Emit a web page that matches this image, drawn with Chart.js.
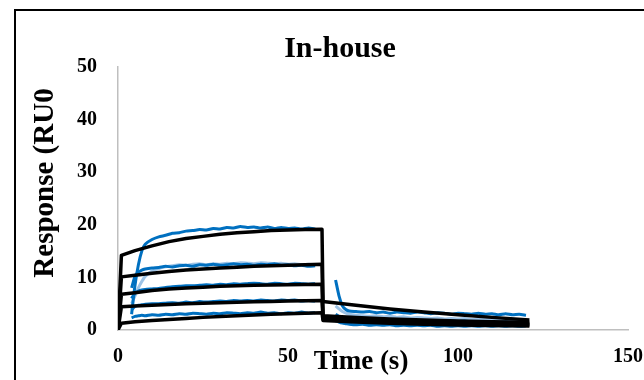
<!DOCTYPE html>
<html lang="en">
<head>
<meta charset="UTF-8">
<title>In-house</title>
<script src="https://cdn.jsdelivr.net/npm/chart.js"></script>
<style>
  body { margin: 0; background: #fff; overflow: hidden; }
  .frame { position: absolute; left: 14px; top: 9px; width: 700px; height: 420px; border: 2px solid #000; }
  #grafico { position: absolute; left: 0; top: 0; }
</style>
</head>
<body>
<div class="frame"></div>
<canvas id="grafico" width="644" height="380"></canvas>

<script>
// measured data (blue), association and dissociation phases
var tA = [4, 5, 6, 7, 8, 10, 12, 14, 16, 18, 20, 22, 24, 26, 28, 30, 32, 34, 36, 38, 40, 42, 44, 46, 48, 50, 52, 54, 56, 58];
var tD = [64, 65, 66, 67, 68, 70, 72, 74, 76, 78, 80, 82, 84, 86, 88, 90, 92, 94, 96, 98, 100, 102, 104, 106, 108, 110, 112, 114, 116, 118, 120];

var b1A = [3.0, 8.5, 12.4, 15.0, 16.3, 17.2, 17.7, 18.0, 18.4, 18.5, 18.8, 18.9, 19.1, 19.0, 19.3, 19.2, 19.5, 19.4, 19.7, 19.5, 19.6, 19.4, 19.6, 19.3, 19.5, 19.3, 19.4, 19.2, 19.4, 19.2];
var b2A = [8.0, 10.2, 11.0, 11.4, 11.6, 11.8, 11.9, 12.1, 12.0, 12.2, 12.3, 12.1, 12.4, 12.3, 12.5, 12.3, 12.4, 12.6, 12.4, 12.5, 12.3, 12.5, 12.4, 12.6, 12.3, 12.4, 12.2, 12.3, 12.1, 12.2];
var b3A = [6.0, 7.0, 7.4, 7.6, 7.7, 7.8, 7.9, 8.1, 8.2, 8.3, 8.4, 8.4, 8.5, 8.6, 8.5, 8.7, 8.6, 8.8, 8.7, 8.8, 8.9, 8.8, 8.7, 8.9, 8.8, 8.7, 8.9, 8.8, 8.7, 8.8];
var b4A = [3.8, 4.5, 4.7, 4.8, 4.9, 5.0, 5.0, 5.1, 5.2, 5.1, 5.3, 5.2, 5.4, 5.3, 5.4, 5.5, 5.4, 5.6, 5.5, 5.6, 5.5, 5.7, 5.6, 5.5, 5.7, 5.6, 5.7, 5.5, 5.6, 5.5];
var b5A = [2.3, 2.6, 2.7, 2.8, 2.7, 2.9, 2.8, 3.0, 2.9, 3.1, 3.0, 3.2, 3.1, 3.0, 3.2, 3.1, 3.3, 3.2, 3.1, 3.3, 3.2, 3.4, 3.2, 3.3, 3.1, 3.3, 3.2, 3.4, 3.2, 3.3];
var lb2A = [5.0, 6.5, 8.0, 9.2, 10.2, 11.2, 11.7, 12.0, 12.2, 12.4, 12.3, 12.5, 12.6, 12.4, 12.6, 12.5, 12.7, 12.6, 12.8, 12.7, 12.6, 12.8, 12.7, 12.6, 12.7, 12.5, 12.6, 12.4, 12.5, 12.4];

var b1D = [9.5, 6.5, 4.6, 3.9, 3.6, 3.5, 3.4, 3.5, 3.3, 3.4, 3.2, 3.4, 3.3, 3.2, 3.4, 3.3, 3.1, 3.3, 3.2, 3.0, 3.2, 3.1, 3.0, 3.2, 3.0, 3.1, 2.9, 3.1, 2.9, 3.0, 2.8];
var b2D = [3.0, 2.6, 2.4, 2.3, 2.2, 2.1, 2.2, 2.0, 2.1, 1.9, 2.0, 1.9, 1.8, 1.9, 1.7, 1.8, 1.7, 1.8, 1.6, 1.7, 1.6, 1.7, 1.5, 1.6, 1.5, 1.6, 1.4, 1.5, 1.4, 1.5, 1.4];
var b3D = [2.4, 2.0, 1.8, 1.7, 1.6, 1.5, 1.6, 1.4, 1.5, 1.3, 1.4, 1.3, 1.2, 1.3, 1.2, 1.3, 1.1, 1.2, 1.1, 1.2, 1.0, 1.1, 1.0, 1.1, 1.0, 1.1, 0.9, 1.0, 0.9, 1.0, 0.9];
var b4D = [1.8, 1.5, 1.3, 1.2, 1.1, 1.0, 1.1, 0.9, 1.0, 0.9, 1.0, 0.8, 0.9, 0.8, 0.9, 0.8, 0.9, 0.7, 0.8, 0.7, 0.8, 0.7, 0.8, 0.7, 0.8, 0.7, 0.8, 0.7, 0.8, 0.7, 0.8];
var lb1D = [4.6, 4.0, 3.5, 3.2, 3.0, 2.8, 2.7, 2.6, 2.7, 2.5, 2.6, 2.4, 2.5, 2.3, 2.4, 2.3, 2.2, 2.3, 2.1, 2.2, 2.1, 2.2, 2.0, 2.1, 2.0, 2.1, 1.9, 2.0, 1.9, 2.0, 1.9];

// fitted curves (black)
var tFit = [0, 1, 5, 10, 15, 20, 25, 30, 35, 40, 45, 50, 55, 60, 60.3, 70, 80, 90, 100, 110, 121];
var k1 = [0, 14.2, 15.1, 16.0, 16.8, 17.4, 17.8, 18.2, 18.5, 18.7, 18.9, 19.0, 19.1, 19.15, 5.4, 4.7, 4.0, 3.4, 2.9, 2.4, 1.9];
var k2 = [0, 10.1, 10.4, 10.8, 11.1, 11.4, 11.6, 11.8, 11.95, 12.1, 12.2, 12.3, 12.4, 12.5, 2.7, 2.4, 2.1, 1.9, 1.7, 1.55, 1.45];
var k3 = [0, 6.8, 7.1, 7.5, 7.8, 8.0, 8.15, 8.3, 8.4, 8.5, 8.55, 8.6, 8.65, 8.7, 2.4, 2.1, 1.8, 1.6, 1.4, 1.3, 1.2];
var k4 = [0, 4.4, 4.55, 4.7, 4.85, 5.0, 5.1, 5.2, 5.28, 5.35, 5.42, 5.5, 5.55, 5.6, 2.1, 1.8, 1.55, 1.35, 1.2, 1.05, 0.95];
var k5 = [0, 1.3, 1.55, 1.8, 2.0, 2.2, 2.4, 2.55, 2.7, 2.85, 2.98, 3.1, 3.2, 3.3, 1.8, 1.5, 1.3, 1.1, 0.95, 0.85, 0.75];

var xTicks = [0, 50, 100, 150];
var yTicks = [0, 10, 20, 30, 40, 50];

var serif = "'Liberation Serif', 'Times New Roman', serif";

function pontos(ts, vs) {
    return ts.map(function (t, i) { return { x: t, y: vs[i] }; });
}

function serie(ts, vs, cor, largura, ordem, curva) {
    return {
        data: pontos(ts, vs),
        borderColor: cor,
        borderWidth: largura,
        pointRadius: 0,
        fill: false,
        order: ordem,
        tension: curva,
        borderJoinStyle: 'round'
    };
}

var azul = '#0070c0';
var azulClaro = '#9dc3e6';

var datasets = [
    serie(tFit, k1, '#000', 3.5, 0, 0),
    serie(tFit, k2, '#000', 3.5, 0, 0),
    serie(tFit, k3, '#000', 3.5, 0, 0),
    serie(tFit, k4, '#000', 3.5, 0, 0),
    serie(tFit, k5, '#000', 3.5, 0, 0),
    serie(tA, b1A, azul, 3, 1, 0.2),
    serie(tA, b2A, azul, 3, 1, 0.2),
    serie(tA, b3A, azul, 3, 1, 0.2),
    serie(tA, b4A, azul, 3, 1, 0.2),
    serie(tA, b5A, azul, 3, 1, 0.2),
    serie(tD, b1D, azul, 3, 1, 0.2),
    serie(tD, b2D, azul, 3, 1, 0.2),
    serie(tD, b3D, azul, 3, 1, 0.2),
    serie(tD, b4D, azul, 3, 1, 0.2),
    serie(tA, lb2A, azulClaro, 3, 2, 0.2),
    serie(tD, lb1D, azulClaro, 3, 2, 0.2)
];

// axis titles placed where the original has them
var titulosEixos = {
    id: 'titulosEixos',
    afterDraw: function (chart) {
        var ctx = chart.ctx;
        ctx.save();
        ctx.fillStyle = '#000';
        ctx.textAlign = 'center';
        ctx.textBaseline = 'middle';
        ctx.font = "bold 27px " + serif;
        ctx.fillText('Time (s)', 361, 362);
        ctx.translate(46, 183);
        ctx.rotate(-Math.PI / 2);
        ctx.font = "bold 29px " + serif;
        ctx.fillText('Response (RU0', 0, 0);
        ctx.restore();
    }
};

var grafico = new Chart(document.getElementById('grafico'), {
    type: 'line',
    data: { datasets: datasets },
    options: {
        responsive: false,
        animation: false,
        layout: { padding: { left: 52, right: 16, top: 0, bottom: 0 } },
        plugins: {
            legend: { display: false },
            tooltip: { enabled: false },
            title: {
                display: true,
                text: 'In-house',
                color: '#000',
                font: { family: serif, size: 30, weight: 'bold' },
                padding: { top: 31, bottom: 0 }
            }
        },
        scales: {
            x: {
                type: 'linear',
                min: 0,
                max: 150,
                afterBuildTicks: function (s) { s.ticks = xTicks.map(function (v) { return { value: v }; }); },
                afterFit: function (s) { s.height = 50; s.paddingLeft = 0; s.paddingRight = 0; },
                grid: { display: false, drawTicks: false },
                border: { color: '#bfbfbf', width: 1.5 },
                ticks: { color: '#000', padding: 15, font: { family: serif, size: 20, weight: 'bold' } }
            },
            y: {
                min: 0,
                max: 50,
                afterBuildTicks: function (s) { s.ticks = yTicks.map(function (v) { return { value: v }; }); },
                afterFit: function (s) { s.width = 66; s.paddingTop = 0; s.paddingBottom = 0; },
                grid: { display: false, drawTicks: false },
                border: { color: '#bfbfbf', width: 1.5 },
                ticks: { color: '#000', padding: 21, font: { family: serif, size: 20, weight: 'bold' } }
            }
        }
    },
    plugins: [titulosEixos]
});
</script>
</body>
</html>
